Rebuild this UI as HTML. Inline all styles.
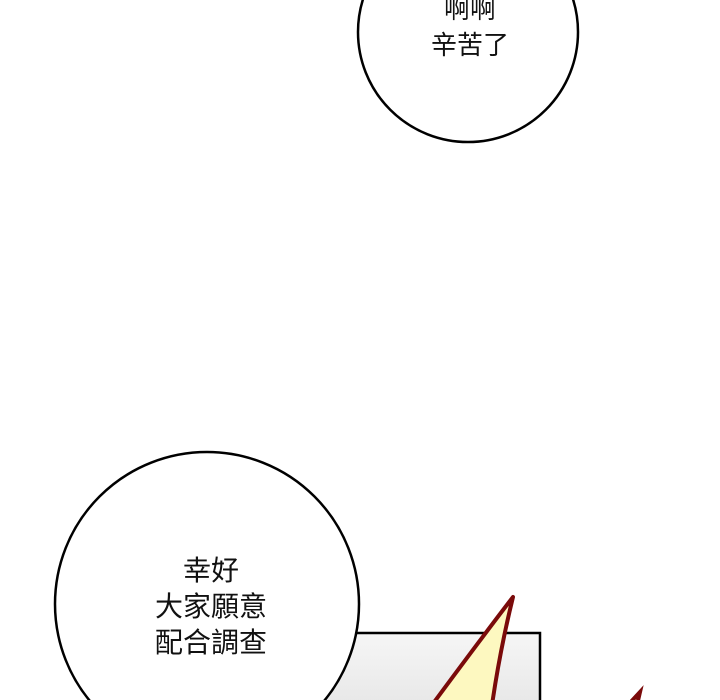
<!DOCTYPE html>
<html><head><meta charset="utf-8"><style>
html,body{margin:0;background:#fff;width:720px;height:700px;overflow:hidden;}
.wrap{position:relative;width:720px;height:700px;overflow:hidden;background:#fff;font-family:"Liberation Sans","Noto Sans CJK TC",sans-serif;}
.t{position:absolute;color:#111;text-align:center;}
</style></head><body><div class="wrap">
<svg width="720" height="700" style="position:absolute;left:0;top:0">
<defs><linearGradient id="g" x1="0" y1="0" x2="0" y2="1"><stop offset="0" stop-color="#f6f6f6"/><stop offset="1" stop-color="#e6e6e6"/></linearGradient></defs>
<ellipse cx="468" cy="32" rx="110" ry="110" fill="#fff" stroke="#000" stroke-width="2.5"/>
<rect x="300" y="633" width="240" height="80" fill="url(#g)" stroke="#000" stroke-width="2.5"/>
<line x1="270" y1="633" x2="355" y2="633" stroke="#ddd" stroke-width="2"/>
<circle cx="207" cy="604" r="152" fill="#fff" stroke="#000" stroke-width="2.5"/>
<path d="M432 705 Q480 640 513 597 Q500 650 492 705 Z" fill="#fdf8c0" stroke="#7a0a0a" stroke-width="4" stroke-linejoin="round"/>
<path d="M628 705 L640 692 L637 705 Z" fill="#fdf8c0" stroke="#7a0a0a" stroke-width="4"/>
</svg>
<div class="t" style="left:400px;top:-9px;width:140px;font-size:26px;line-height:36px">啊啊<br>辛苦了</div>
<div class="t" style="left:111px;top:553px;width:200px;font-size:28px;line-height:36px">幸好<br>大家願意<br>配合調查</div>
</div></body></html>
